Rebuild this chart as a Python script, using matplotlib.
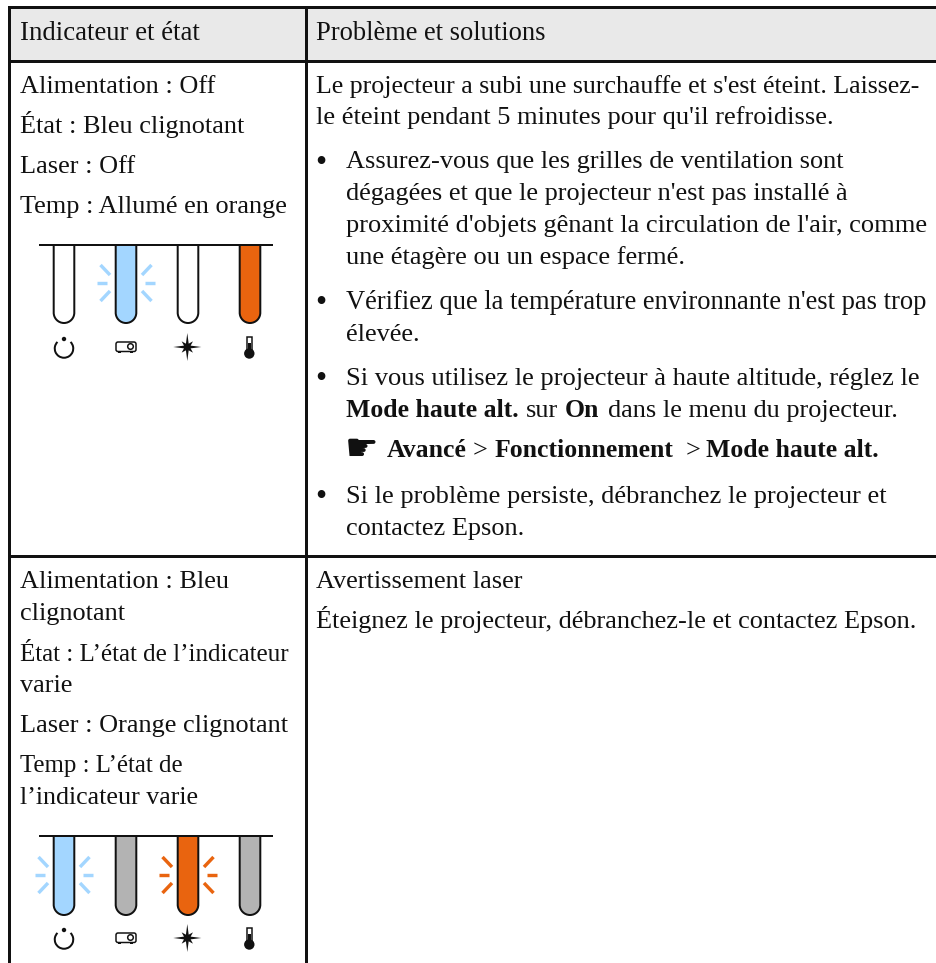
import matplotlib
matplotlib.use("Agg")
import matplotlib.pyplot as plt
import numpy as np
from matplotlib.patches import Rectangle, Circle, Arc, FancyBboxPatch, Polygon, PathPatch
from matplotlib.path import Path

W, H = 937, 963
plt.rcParams['font.family'] = ['Liberation Serif', 'DejaVu Sans']
FS = 18.9
FSB = 18.55

header = ["Indicateur et état", "Problème et solutions"]
left_lines = [
    (20, "Alimentation : Off", 93, FS), (20, "État : Bleu clignotant", 133, FS), (20, "Laser : Off", 173, FS),
    (20, "Temp : Allumé en orange", 213, FS),
    (20, "Alimentation : Bleu", 588, FS), (20, "clignotant", 620, FS),
    (20, "État : L’état de l’indicateur", 661, 18.0),
    (20, "varie", 692, FS), (20, "Laser : Orange clignotant", 732, FS),
    (20, "Temp : L’état de", 772, 17.9),
    (20, "l’indicateur varie", 803.5, 18.7),
]
right_lines = [
    (316, "Le projecteur a subi une surchauffe et s'est éteint. Laissez-", 93, 18.65),
    (316, "le éteint pendant 5 minutes pour qu'il refroidisse.", 124, 19.0),
    (346, "Assurez-vous que les grilles de ventilation sont", 168, FS),
    (346, "dégagées et que le projecteur n'est pas installé à", 200, FS),
    (346, "proximité d'objets gênant la circulation de l'air, comme", 232, 19.0),
    (346, "une étagère ou un espace fermé.", 264, 19.0),
    (346, "Vérifiez que la température environnante n'est pas trop", 309, 19.1),
    (346, "élevée.", 341, FS),
    (346, "Si vous utilisez le projecteur à haute altitude, réglez le", 385, 19.05),
    (346, "Si le problème persiste, débranchez le projecteur et", 503, 19.0),
    (346, "contactez Epson.", 535, FS),
    (316, "Avertissement laser", 588, FS),
    (316, "Éteignez le projecteur, débranchez-le et contactez Epson.", 628, FS),
]
bullet_baselines = [168, 309, 385, 503]
mixed_line_1 = [(346, "Mode haute alt.", True), (526, "sur", False), (565, "On", True),
                (608, "dans le menu du projecteur.", False)]
mixed_line_2 = [(387, "Avancé", True), (473, ">", False), (495, "Fonctionnement", True),
                (686, ">", False), (706, "Mode haute alt.", True)]
mixed_baselines = [417, 457]
hand_symbol = "\u261b"

tube_x = [64, 126, 188, 250]
row1_fill = ["white", "#A3D6FF", "white", "#E9640F"]
row1_rays = [None, "#A3D6FF", None, None]
row2_fill = ["#A3D6FF", "#B3B3B3", "#E9640F", "#B3B3B3"]
row2_rays = ["#A3D6FF", None, "#E9640F", None]

fig = plt.figure(figsize=(W / 100, H / 100), dpi=100)
ax = fig.add_axes([0, 0, 1, 1])
ax.set_xlim(0, W)
ax.set_ylim(H, 0)
ax.axis("off")
PX = 0.72
INK = "#111111"

# Table
ax.add_patch(Rectangle((9.5, 8), W, 53, fc="#E9E9E9", ec="none", zorder=0))
for (x0, y0, x1, y1) in [(9.5, 7.5, W, 7.5), (9.5, 61, W, 61), (9.5, 556, W, 556),
                         (9.5, 7.5, 9.5, H), (306, 7.5, 306, H)]:
    ax.plot([x0, x1], [y0, y1], color=INK, lw=3 * PX, solid_capstyle="projecting", zorder=5)

# Text
ax.text(20, 40, header[0], fontsize=19.3, color=INK, va="baseline")
ax.text(316, 40, header[1], fontsize=19.1, color=INK, va="baseline")
for x, s, y, fs in left_lines + right_lines:
    ax.text(x, y, s, fontsize=fs, color=INK, va="baseline")
for y in bullet_baselines:
    ax.text(315, y + 2.5, "•", fontsize=23, color=INK, va="baseline")
for segs, y in zip([mixed_line_1, mixed_line_2], mixed_baselines):
    for x, s, bold in segs:
        ax.text(x, y, s, fontsize=FSB if bold else FS, color=INK, va="baseline",
                fontweight="bold" if bold else "normal")
ax.text(344.5, 460, hand_symbol, fontsize=27, family="DejaVu Sans", color=INK, va="baseline")


def tube(x, top, bottom, fill):
    r = 10.3
    k = 0.5523 * r
    verts = [(x - r, top), (x - r, bottom - r),
             (x - r, bottom - r + k), (x - k, bottom), (x, bottom),
             (x + k, bottom), (x + r, bottom - r + k), (x + r, bottom - r),
             (x + r, top)]
    codes = [Path.MOVETO, Path.LINETO, Path.CURVE4, Path.CURVE4, Path.CURVE4,
             Path.CURVE4, Path.CURVE4, Path.CURVE4, Path.LINETO]
    ax.add_patch(PathPatch(Path(verts, codes), fc=fill, ec=INK, lw=2 * PX, zorder=3))


def rays(x, yc, color):
    for sx in (-1, 1):
        ax.plot([x + sx * 19, x + sx * 29], [yc, yc], color=color, lw=3.4 * PX, solid_capstyle="butt", zorder=2)
        for sy in (-1, 1):
            ax.plot([x + sx * 16, x + sx * 25.5], [yc + sy * 8, yc + sy * 18], color=color,
                    lw=3.4 * PX, solid_capstyle="butt", zorder=2)


def icons(yc):
    c = INK
    # power: open ring with a dot above the gap
    x = tube_x[0]
    ax.add_patch(Arc((x, yc + 1), 18.5, 18.5, theta1=-45, theta2=225, ec=c, lw=2 * PX, zorder=4))
    ax.add_patch(Circle((x, yc - 8.5), 2.2, fc=c, ec="none", zorder=4))
    # projector
    x = tube_x[1]
    ax.add_patch(FancyBboxPatch((x - 10, yc - 5.5), 20, 9.5, boxstyle="round,pad=0,rounding_size=2",
                                fc="white", ec=c, lw=1.5 * PX, zorder=4))
    ax.add_patch(Circle((x + 4.5, yc - 1), 2.8, fc="white", ec=c, lw=1.5 * PX, zorder=5))
    ax.add_patch(Rectangle((x - 7.5, yc + 4), 3, 1.5, fc=c, ec="none", zorder=4))
    ax.add_patch(Rectangle((x + 4, yc + 4), 3, 1.5, fc=c, ec="none", zorder=4))
    # star
    x = tube_x[2] - 0.7
    pts = []
    for i in range(16):
        a = np.pi * i / 8
        r = [14, 3.6, 8, 3.6][i % 4]
        pts.append((x + r * np.cos(a), yc - 0.5 + r * np.sin(a)))
    ax.add_patch(Polygon(pts, closed=True, fc=c, ec="none", zorder=4))
    # thermometer
    x = tube_x[3] - 0.7
    ax.add_patch(Rectangle((x - 2.7, yc - 10.5), 5.4, 13, fc="white", ec=c, lw=1.5 * PX, zorder=4))
    ax.add_patch(Rectangle((x - 1.3, yc - 4), 2.6, 6, fc=c, ec="none", zorder=5))
    ax.add_patch(Circle((x, yc + 6), 5.2, fc=c, ec="none", zorder=5))


for top, bottom, fills, rr, icon_y, ray_y in [(245, 323, row1_fill, row1_rays, 347.5, 283),
                                              (836, 915, row2_fill, row2_rays, 938.5, 875)]:
    ax.plot([40, 272], [top, top], color=INK, lw=2 * PX, zorder=6)
    for x, f, r in zip(tube_x, fills, rr):
        tube(x, top, bottom, f)
        if r:
            rays(x, ray_y, r)
    icons(icon_y)

fig.savefig("out.png", dpi=100)
